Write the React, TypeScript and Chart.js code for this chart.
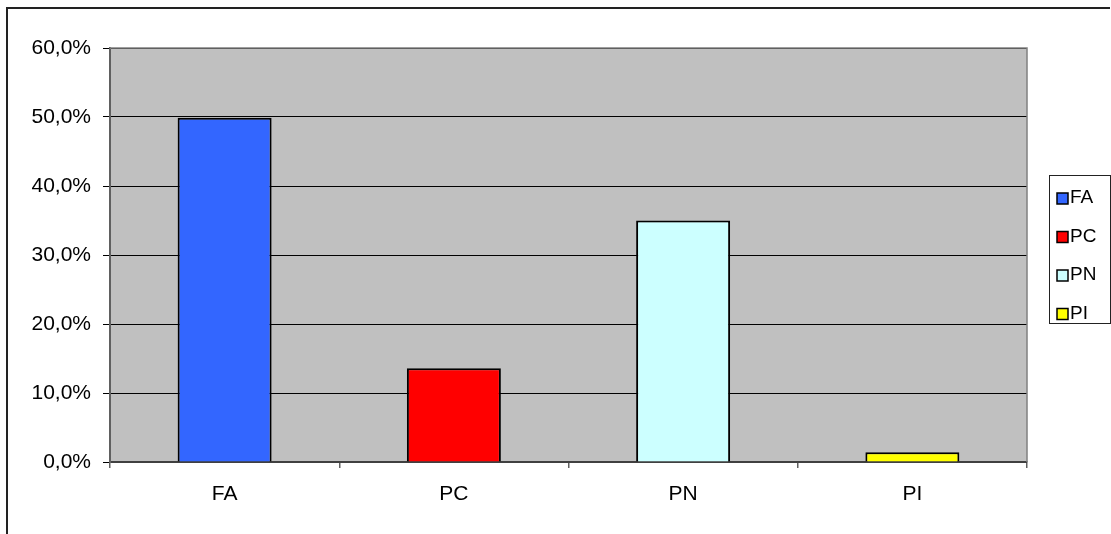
import React, { useEffect, useRef } from "react";
import { Chart, registerables } from "chart.js";

Chart.register(...registerables);

const categories: string[] = ["FA", "PC", "PN", "PI"];
const values: number[] = [49.9, 13.6, 35.0, 1.4];
const barColors: string[] = ["#3366FF", "#FF0000", "#CCFFFF", "#FFFF00"];
const yTickLabels: string[] = ["0,0%", "10,0%", "20,0%", "30,0%", "40,0%", "50,0%", "60,0%"];

const FONT = "'Liberation Sans', Arial, sans-serif";

const decorPlugin = {
  id: "decor",
  beforeDraw(chart: any) {
    const { ctx, chartArea } = chart;
    ctx.save();
    ctx.fillStyle = "#FFFFFF";
    ctx.fillRect(0, 0, chart.width, chart.height);
    ctx.fillStyle = "#C0C0C0";
    ctx.fillRect(chartArea.left, chartArea.top, chartArea.right - chartArea.left, chartArea.bottom - chartArea.top);
    ctx.restore();
  },
  afterDraw(chart: any) {
    const { ctx, chartArea } = chart;
    ctx.save();
    ctx.strokeStyle = "#808080";
    ctx.lineWidth = 1.5;
    ctx.beginPath();
    ctx.moveTo(chartArea.left, chartArea.top);
    ctx.lineTo(chartArea.right, chartArea.top);
    ctx.lineTo(chartArea.right, chartArea.bottom);
    ctx.stroke();
    ctx.strokeStyle = "#222222";
    ctx.lineWidth = 2;
    ctx.beginPath();
    ctx.moveTo(7, chart.height + 5);
    ctx.lineTo(7, 8);
    ctx.lineTo(1110, 8);
    ctx.stroke();
    const lx = 1049, ly = 175, lw = 61, lh = 148;
    ctx.strokeStyle = "#222222";
    ctx.lineWidth = 1;
    ctx.strokeRect(lx + 0.5, ly + 0.5, lw, lh);
    ctx.font = `19px ${FONT}`;
    ctx.textBaseline = "middle";
    ctx.textAlign = "left";
    const meta = chart.data;
    const labels: string[] = meta.labels;
    const colors: string[] = meta.datasets[0].backgroundColor;
    labels.forEach((lab: string, i: number) => {
      const cy = 198 + i * 38.5;
      ctx.fillStyle = colors[i];
      ctx.fillRect(1057, cy - 5, 11, 11);
      ctx.strokeStyle = "#000";
      ctx.lineWidth = 1.5;
      ctx.strokeRect(1057, cy - 5, 11, 11);
      ctx.fillStyle = "#000";
      ctx.fillText(lab, 1070, cy);
    });
    ctx.restore();
  },
};

export default function App() {
  const ref = useRef<HTMLCanvasElement | null>(null);
  useEffect(() => {
    if (!ref.current) return;
    const chart = new Chart(ref.current, {
      type: "bar",
      data: {
        labels: categories,
        datasets: [
          {
            label: "Serie",
            data: values,
            backgroundColor: barColors,
            borderColor: "#000000",
            borderWidth: 2,
            barPercentage: 0.41,
            categoryPercentage: 1,
          },
        ],
      },
      options: {
        animation: false,
        responsive: false,
        devicePixelRatio: 1,
        layout: { padding: { left: 0, top: 48, right: 84, bottom: 0 } },
        plugins: { legend: { display: false }, tooltip: { enabled: false } },
        scales: {
          x: {
            afterFit: (s: any) => { s.height = 72; },
            grid: {
              offset: true,
              drawOnChartArea: false,
              drawTicks: true,
              tickLength: 6,
              color: "#606060",
              lineWidth: 1.5,
            },
            border: { color: "#404040", width: 2 },
            ticks: { color: "#000", font: { family: FONT, size: 21 }, padding: 14 },
          },
          y: {
            min: 0,
            max: 60,
            afterFit: (s: any) => { s.width = 110; },
            grid: { color: "#000000", lineWidth: 1, tickLength: 7 },
            border: { color: "#606060", width: 2 },
            ticks: {
              stepSize: 10,
              color: "#000",
              font: { family: FONT, size: 21 },
              padding: 12,
              callback: (v: any) => yTickLabels[Math.round(Number(v) / 10)],
            },
          },
        },
      },
      plugins: [decorPlugin],
    });
    return () => chart.destroy();
  }, []);
  return (
    <div style={{ position: "absolute", left: 0, top: 0, width: 1111, height: 534, background: "#fff" }}>
      <canvas ref={ref} width={1111} height={534} />
    </div>
  );
}
